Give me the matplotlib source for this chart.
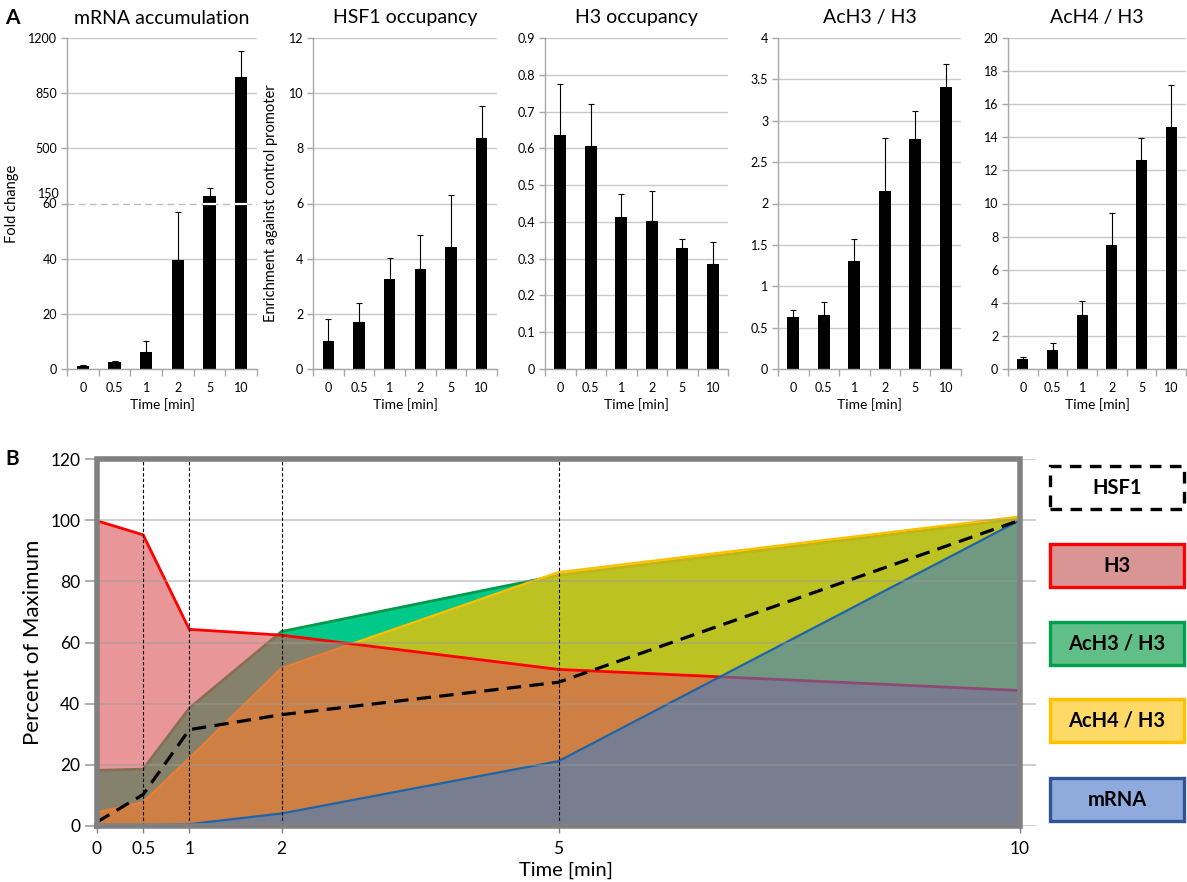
import numpy as np
import matplotlib
matplotlib.use('Agg')
import matplotlib.pyplot as plt
from matplotlib.patches import Rectangle
from matplotlib.ticker import FixedLocator, FuncFormatter

plt.rcParams['font.family'] = ['Lato', 'DejaVu Sans']

W, H, DPI = 1187, 882, 100

# ---------------- data ----------------
time_labels = ['0', '0.5', '1', '2', '5', '10']
time_values = [0, 0.5, 1, 2, 5, 10]

mrna_mean = [1.2, 2.4, 6.0, 39.6, 197, 955]
mrna_err = [0.3, 0.6, 4.0, 17.3, 53, 160]
hsf1_mean = [1.0, 1.72, 3.27, 3.64, 4.42, 8.36]
hsf1_err = [0.82, 0.66, 0.75, 1.2, 1.88, 1.18]
h3_mean = [0.636, 0.606, 0.414, 0.402, 0.330, 0.286]
h3_err = [0.139, 0.115, 0.062, 0.082, 0.024, 0.059]
ach3_mean = [0.626, 0.65, 1.31, 2.15, 2.78, 3.41]
ach3_err = [0.081, 0.16, 0.265, 0.64, 0.34, 0.28]
ach4_mean = [0.6, 1.15, 3.27, 7.47, 12.6, 14.6]
ach4_err = [0.15, 0.4, 0.81, 1.98, 1.34, 2.57]

titles = ['mRNA accumulation', 'HSF1 occupancy', 'H3 occupancy', 'AcH3 / H3', 'AcH4 / H3']
mrna_ticks = [0, 20, 40, 60, 500, 850, 1200]

# Panel B (percent of maximum)
hsf1_pct = [1.3, 10.3, 31.5, 36.4, 47.0, 100.0]
h3_pct = [99.8, 95.2, 64.3, 62.4, 51.2, 44.3]
ach3_pct = [18.2, 18.6, 38.5, 63.6, 82.0, 100.5]
ach4_pct = [4.4, 7.8, 22.2, 51.6, 83.0, 101.2]
mrna_pct = [0.1, 0.2, 0.6, 4.1, 21.2, 100.0]
legend_labels = ['HSF1', 'H3', 'AcH3 / H3', 'AcH4 / H3', 'mRNA']

fig = plt.figure(figsize=(W / DPI, H / DPI), dpi=DPI)


def px_axes(left, top, width, height):
    return fig.add_axes([left / W, 1 - (top + height) / H, width / W, height / H])


# ---------------- Panel A ----------------
def fwd(v):
    v = np.asarray(v, dtype=float)
    return np.where(v <= 60, v / 20.0, np.where(v >= 150, 3 + (v - 150) / 350.0, 3.0))


def inv(u):
    u = np.asarray(u, dtype=float)
    return np.where(u <= 3, u * 20.0, 150 + (u - 3) * 350.0)


lefts = [67, 313, 545, 778, 1008]
widths = [190, 184, 183, 183, 178]
top_a, h_a = 38, 331
means = [mrna_mean, hsf1_mean, h3_mean, ach3_mean, ach4_mean]
errs = [mrna_err, hsf1_err, h3_err, ach3_err, ach4_err]
ylims = [(0, 1200), (0, 12), (0, 0.9), (0, 4), (0, 20)]
ysteps = [None, 2, 0.1, 0.5, 2]
bw = 0.38
grid_c = '#c9c9c9'
axis_c = '#a8a8a8'

for k in range(5):
    ax = px_axes(lefts[k], top_a, widths[k], h_a)
    x = np.arange(len(time_labels))
    if k == 0:
        ax.set_yscale('function', functions=(fwd, inv))
    ax.set_axisbelow(True)
    ax.bar(x, means[k], width=bw, color='black', zorder=2,
           yerr=[np.zeros(len(x)), errs[k]],
           error_kw=dict(ecolor='black', elinewidth=0.8, capsize=2.5, capthick=0.8, zorder=3))
    ax.set_xlim(-0.5, len(x) - 0.5)
    ax.set_ylim(*ylims[k])
    if k == 0:
        ax.yaxis.set_major_locator(FixedLocator(mrna_ticks))
        ax.yaxis.set_minor_locator(FixedLocator([]))
        ax.yaxis.set_major_formatter(FuncFormatter(lambda v, p: '%g' % v))
    else:
        lo, hi = ylims[k]
        n = int(round((hi - lo) / ysteps[k]))
        ax.set_yticks([lo + i * ysteps[k] for i in range(n + 1)])
        ax.yaxis.set_major_formatter(FuncFormatter(lambda v, p: '%g' % round(v, 3)))
    ax.yaxis.grid(True, color=grid_c, lw=1.0)
    if k == 0:
        gl = ax.get_ygridlines()
        gl[3].set_linestyle((0, (5, 3)))
        gl[3].set_color('#bdbdbd')
        for i, v in enumerate(means[0]):
            if v >= 150:
                ax.hlines(60, i - bw / 2, i + bw / 2, colors='white', lw=1.6, zorder=4)
        ax.annotate('150', xy=(0, 150), xycoords=('axes fraction', 'data'),
                    xytext=(-7, 9), textcoords='offset pixels', ha='right', va='center',
                    fontsize=9)
    ax.set_xticks(x)
    ax.set_xticklabels(time_labels)
    ax.set_xticks(np.arange(-0.5, len(x)), minor=True)
    ax.tick_params(axis='x', which='major', length=0, labelsize=9, pad=9)
    ax.tick_params(axis='x', which='minor', length=5, color=axis_c, width=1)
    ax.tick_params(axis='y', which='major', length=4, color=axis_c, width=1, labelsize=9, pad=3)
    for s in ['top', 'right']:
        ax.spines[s].set_visible(False)
    for s in ['left', 'bottom']:
        ax.spines[s].set_color(axis_c)
        ax.spines[s].set_linewidth(1.0)
    ax.set_xlabel('Time [min]', fontsize=10, labelpad=3)
    fig.text((lefts[k] + widths[k] / 2) / W, 1 - 18 / H, titles[k], ha='center', va='center',
             fontsize=14)
    if k == 0:
        ax.set_ylabel('Fold change', fontsize=10.5)
        ax.yaxis.set_label_coords(-0.255, 0.5)
    if k == 1:
        ax.set_ylabel('Enrichment against control promoter', fontsize=10.5)
        ax.yaxis.set_label_coords(-0.19, 0.5)

fig.text(12 / W, 1 - 18 / H, 'A', fontsize=15, fontweight='bold', ha='center', va='center')
fig.text(12 / W, 1 - 459 / H, 'B', fontsize=15, fontweight='bold', ha='center', va='center')

# ---------------- Panel B ----------------
x0_px, x10_px, y0_px, y120_px = 97, 1020, 826, 459
xmax = 10.17
axB = px_axes(x0_px, y120_px, (x10_px - x0_px) * xmax / 10, y0_px - y120_px)
axB.set_xlim(0, xmax)
axB.set_ylim(0, 120)

layers = [
    (ach3_pct, (0 / 255, 201 / 255, 138 / 255), 1.0, '#009a4a', 2.0),
    (ach4_pct, (255 / 255, 192 / 255, 0 / 255), 0.745, '#ffc000', 1.6),
    (h3_pct, (218 / 255, 86 / 255, 89 / 255), 0.62, '#ff0000', 2.0),
    (mrna_pct, (63 / 255, 126 / 255, 195 / 255), 0.6, '#1f63a8', 1.6),
]
for k, (vals, fc, a, lc, lw) in enumerate(layers):
    z = 1.0 + 0.2 * k
    axB.fill_between(time_values, 0, vals, facecolor=fc, alpha=a, lw=0, zorder=z)
    axB.plot(time_values, vals, color=lc, lw=lw, zorder=z + 0.1, solid_joinstyle='miter')

axB.set_axisbelow(False)
axB.set_yticks(range(0, 121, 20))
axB.yaxis.grid(True, color='#9a9a9a', lw=1.2, alpha=0.55)
axB.vlines(time_values[:-1], 0, 120, colors='black', linestyles=(0, (3, 2)), lw=0.8, zorder=3)
axB.plot(time_values, hsf1_pct, color='black', lw=2.3, dashes=(4.5, 2.6), zorder=4)

xa, xb = min(time_values), max(time_values)
ya, yb = 0, 120
axB.plot([xa, xb, xb, xa, xa], [ya, ya, yb, yb, ya], color='#808080', lw=4,
         clip_on=False, zorder=5, solid_joinstyle='miter')

for s in axB.spines.values():
    s.set_visible(False)
axB.set_xticks(time_values)
axB.set_xticklabels(time_labels)
axB.tick_params(axis='x', length=5, color='#808080', width=1, labelsize=12.5, pad=6)
axB.tick_params(axis='y', length=9, color='#a0a0a0', width=1.2, labelsize=12.5, pad=3)
axB.set_xlabel('Time [min]', fontsize=14.5, labelpad=3)
axB.set_ylabel('Percent of Maximum', fontsize=16)
axB.yaxis.set_label_coords(-0.058, 0.5)

# legend boxes
leg_left, leg_w, leg_h = 1050, 134, 43
leg_tops = [466, 544, 622, 699, 778]
leg_face = ['white', '#d99594', '#5fbf86', '#ffd966', '#8faadc']
leg_edge = ['black', '#ff0000', '#00a050', '#ffc000', '#2f5597']
for lab, t, fc, ec in zip(legend_labels, leg_tops, leg_face, leg_edge):
    ls = (0, (3.5, 2.5)) if lab == 'HSF1' else 'solid'
    rect = Rectangle((leg_left / W, 1 - (t + leg_h) / H), leg_w / W, leg_h / H,
                     transform=fig.transFigure, facecolor=fc, edgecolor=ec,
                     lw=2.4, linestyle=ls)
    fig.add_artist(rect)
    fig.text((leg_left + leg_w / 2) / W, 1 - (t + leg_h / 2) / H, lab, ha='center',
             va='center', fontsize=14.5, fontweight='bold')

fig.savefig('out.png', dpi=DPI)
